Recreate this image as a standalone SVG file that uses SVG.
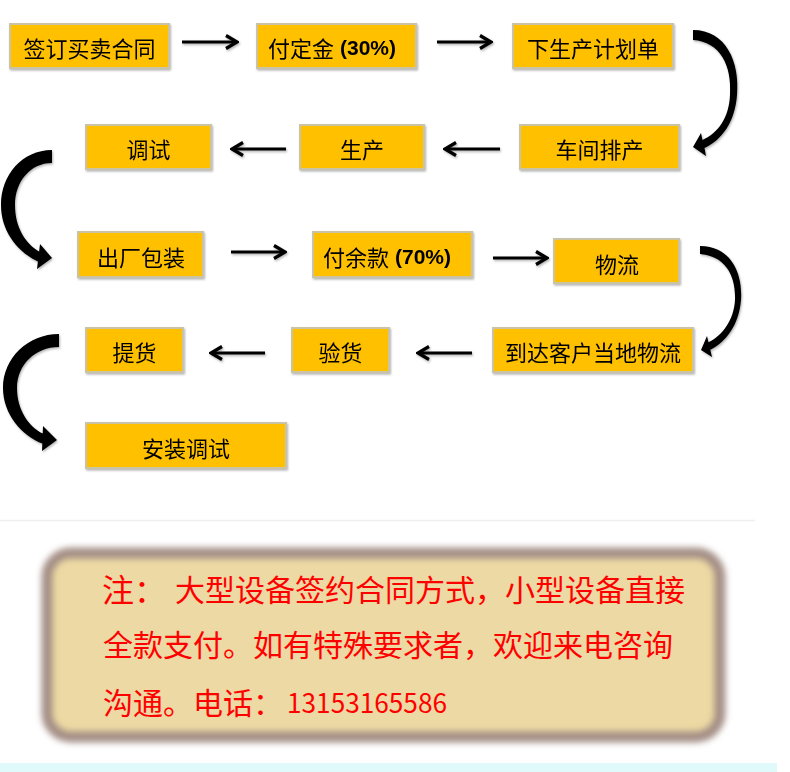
<svg xmlns="http://www.w3.org/2000/svg" width="790" height="772" viewBox="0 0 790 772">
<style>
.box{fill:#FFC000;stroke:#CBC3A5;stroke-width:2}
.lbl{font-family:"Noto Sans CJK SC","Noto Sans",sans-serif;font-size:22px;fill:#000;dominant-baseline:central}
.mid{text-anchor:middle}
.pct{font-family:"Liberation Sans",Arial,sans-serif;font-weight:bold;font-size:21px}
.arr{fill:none;stroke:#000;stroke-width:3.2;marker-end:url(#ah)}
.curve{fill:#000}
.note{font-family:"Noto Sans CJK SC","Noto Sans",sans-serif;font-size:30px;fill:#FF0000;dominant-baseline:central}
</style>
<defs>
<marker id="ah" markerUnits="userSpaceOnUse" viewBox="0 0 16 16" markerWidth="16" markerHeight="16" refX="14" refY="8" orient="auto">
<path d="M3,1.5 L14,8 L3,14.5" fill="none" stroke="#000" stroke-width="3.2"/>
</marker>
<filter id="sh" x="-10%" y="-10%" width="130%" height="140%">
<feDropShadow dx="1" dy="1.5" stdDeviation="1.2" flood-color="#000" flood-opacity="0.3"/>
</filter>
<filter id="blur" x="-10%" y="-10%" width="120%" height="120%">
<feGaussianBlur stdDeviation="3"/>
</filter>
</defs>
<rect width="790" height="772" fill="#fff"/>

<g id="connectors">
<g filter="url(#sh)">
<path class="arr" d="M182,42 H237"/>
<path class="arr" d="M437,42 H491"/>
<path class="arr" d="M286,149 H232"/>
<path class="arr" d="M500,149 H445"/>
<path class="arr" d="M231,252 H285"/>
<path class="arr" d="M493,258 H547"/>
<path class="arr" d="M472,353 H418"/>
<path class="arr" d="M265,353 H211"/>
<path class="curve" d="M693,30 C726,30 740,62 737,95 C735,122 722,140 704.5,148 L706,156 L693,147 L701,133 L702.5,140 C718,133 729,118 730,95 C732,65 720,42 693,40 Z"/>
<path class="curve" d="M52,150 C22,150 1,175 1,205 C1,232 18,252 37.9,261.5 L37,269 L52,258 L40,244 L39.1,251.5 C26,244 15,228 15,205 C15,182 30,163 52,163 Z"/>
<path class="curve" d="M700,246 C730,246 743,272 741,300 C739,325 726,342 710.3,349.7 L712,357 L701,350 L707,336 L708.5,342.3 C722,336 734,320 735,300 C736,275 725,256 700,254 Z"/>
<path class="curve" d="M59,334 C28,334 3,358 3,388 C3,414 22,436 42.3,443.5 L42,451 L57,440 L43,426 L42.7,433.5 C29,427 17,410 17,388 C17,365 35,347 59,347 Z"/>
</g>
</g>

<g id="n1" filter="url(#sh)"><rect class="box" x="10" y="24" width="159" height="44"/><text class="lbl mid" x="89.5" y="47">签订买卖合同</text></g>
<g id="n2" filter="url(#sh)"><rect class="box" x="257" y="24" width="159" height="44"/><text class="lbl" x="268" y="47">付定金<tspan class="pct" dx="6">(30%)</tspan></text></g>
<g id="n3" filter="url(#sh)"><rect class="box" x="513" y="24" width="160" height="44"/><text class="lbl mid" x="593" y="47">下生产计划单</text></g>
<g id="n4" filter="url(#sh)"><rect class="box" x="520" y="125" width="159" height="44"/><text class="lbl mid" x="599.5" y="148">车间排产</text></g>
<g id="n5" filter="url(#sh)"><rect class="box" x="300" y="125" width="124" height="44"/><text class="lbl mid" x="362" y="148">生产</text></g>
<g id="n6" filter="url(#sh)"><rect class="box" x="86" y="125" width="125" height="44"/><text class="lbl mid" x="148.5" y="148">调试</text></g>
<g id="n7" filter="url(#sh)"><rect class="box" x="78" y="232" width="125" height="45"/><text class="lbl mid" x="141" y="256">出厂包装</text></g>
<g id="n8" filter="url(#sh)"><rect class="box" x="313" y="232" width="159" height="45"/><text class="lbl" x="323" y="256">付余款<tspan class="pct" dx="6">(70%)</tspan></text></g>
<g id="n9" filter="url(#sh)"><rect class="box" x="554" y="239" width="125" height="44"/><text class="lbl mid" x="617" y="263">物流</text></g>
<g id="n10" filter="url(#sh)"><rect class="box" x="493" y="328" width="200" height="44"/><text class="lbl mid" x="593" y="351">到达客户当地物流</text></g>
<g id="n11" filter="url(#sh)"><rect class="box" x="292" y="328" width="97" height="44"/><text class="lbl mid" x="340.5" y="351">验货</text></g>
<g id="n12" filter="url(#sh)"><rect class="box" x="86" y="328" width="97" height="44"/><text class="lbl mid" x="134.5" y="351">提货</text></g>
<g id="n13" filter="url(#sh)"><rect class="box" x="86" y="423" width="200" height="45"/><text class="lbl mid" x="186" y="447">安装调试</text></g>

<line x1="0" y1="520.5" x2="755" y2="520.5" stroke="#EFEFEF" stroke-width="1.5"/>

<g id="note">
<rect x="47" y="553" width="673" height="184" rx="24" fill="#ECD9A3"/>
<rect x="47" y="553" width="673" height="184" rx="24" fill="none" stroke="#A48F86" stroke-width="11" filter="url(#blur)"/>
<text class="note" x="102" y="588"><tspan font-size="32">注：</tspan></text>
<text class="note" x="175" y="588">大型设备签约合同方式，小型设备直接</text>
<text class="note" x="103" y="643">全款支付。如有特殊要求者，欢迎来电咨询</text>
<text class="note" x="103" y="701">沟通。电话：<tspan x="287" font-size="27" textLength="160" lengthAdjust="spacingAndGlyphs">13153165586</tspan></text>
</g>

<rect x="0" y="763" width="777" height="9" fill="#E0FAFC"/>
</svg>
